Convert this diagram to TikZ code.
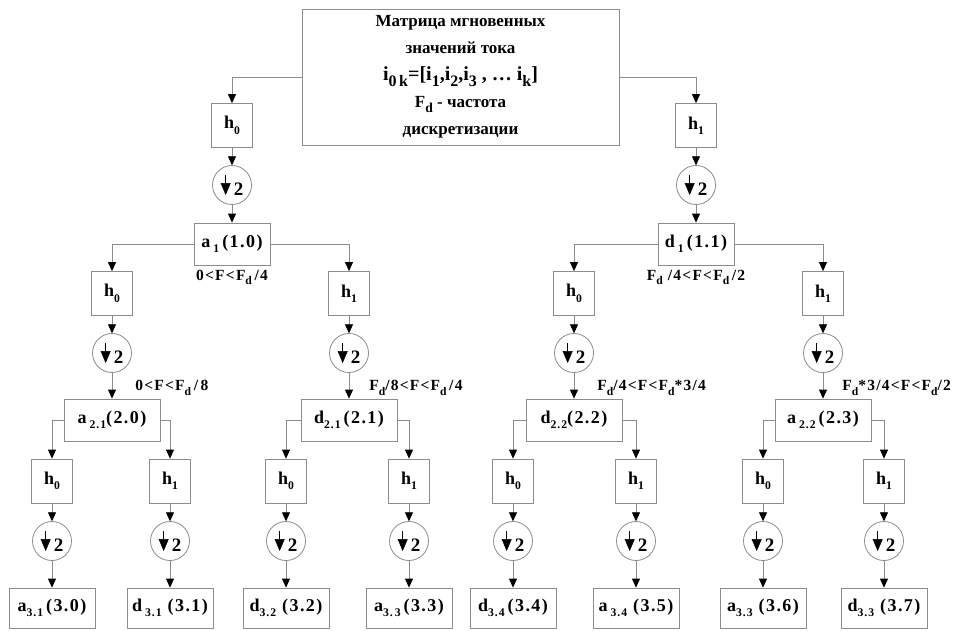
\documentclass[tikz,border=0pt]{standalone}
\usepackage{fontspec}
\setmainfont{Liberation Serif}
\newfontfamily\lsfont{Liberation Serif}[LetterSpace=8]
\usetikzlibrary{arrows.meta,positioning}
% lowered subscript in text font
\newcommand\lo[2][.65]{\raisebox{-.3em}{\fontsize{#1em}{#1em}\selectfont #2}}
% down-sampling arrow inside the circles
\newcommand\dn{\tikz[baseline=0pt]\draw[black,line width=.5pt,-{Triangle[width=10pt,length=12pt]}] (0pt,20pt)--(0pt,0pt);}

\begin{document}
\begin{tikzpicture}[x=1pt,y=-1pt,line width=.8pt,
  >={Triangle[width=8pt,length=9pt,color=black]},font=\bfseries,
  conn/.style={draw=black!45,->},
  topbox/.style={draw=black!45,minimum width=317pt,minimum height=136pt,
    align=center,font=\fontsize{17}{27}\selectfont\bfseries},
  hbox/.style={draw=black!45,minimum width=41pt,minimum height=44pt,
    inner sep=0pt,font=\fontsize{18}{20}\selectfont\bfseries},
  dsmp/.style={draw=black!45,circle,minimum size=39pt,inner sep=0pt,
    font=\fontsize{19}{20}\selectfont\bfseries},
  lvbox/.style={draw=black!45,minimum height=42pt,inner sep=2pt,
    font=\lsfont\fontsize{18}{20}\selectfont\bfseries},
  endbox/.style={lvbox,minimum width=86pt,minimum height=40pt},
  band/.style={inner sep=1pt,font=\lsfont\fontsize{15.5}{17}\selectfont\bfseries}]
  \path[use as bounding box,fill=white] (0,0) rectangle (957,630);

  \node[topbox] (src) at (460.5,77) {Матрица мгновенных\\значений тока\\
    {\fontsize{20}{27}\selectfont i\lo[.8]{0\,k}=[i\lo[.8]{1},i\lo[.8]{2},i\lo[.8]{3}~, … i\lo[.8]{k}]}\\
    F\lo[.8]{d} - частота\\дискретизации};

  % level 1
  \foreach \n/\x/\s/\k/\txt in {L/232/west/0/{a\,\lo{1}\,(1.0)},
    R/696/east/1/{d\,\lo{1}\,(1.1)}}{
    \node[hbox] (h\n) at (\x,125.5) {h\lo{\k}};
    \node[dsmp] (c\n) at (\x,185) {\dn\,2};
    \node[lvbox,minimum width=76pt] (\n) at (\x,244) {\txt};
    \draw[conn] (src.\s) -| (h\n);
    \draw[conn] (h\n) -- (c\n);
    \draw[conn] (c\n) -- (\n);
  }

  % level 2
  \foreach \n/\p/\x/\s/\k/\txt in {LL/L/112/west/0/{a\,\lo{2.1}(2.0)},
    LR/L/349/east/1/{d\lo{2.1}\,(2.1)},
    RL/R/574/west/0/{d\lo{2.2}(2.2)},
    RR/R/823/east/1/{a\,\lo{2.2}\,(2.3)}}{
    \node[hbox] (h\n) at (\x,293.5) {h\lo{\k}};
    \node[dsmp] (c\n) at (\x,353) {\dn\,2};
    \node[lvbox,minimum width=96pt] (\n) at (\x,420) {\txt};
    \draw[conn] (\p.\s) -| (h\n);
    \draw[conn] (h\n) -- (c\n);
    \draw[conn] (c\n) -- (\n);
  }

  % level 3
  \foreach \n/\p/\x/\s/\k/\txt in {LLL/LL/52/west/0/{a\lo{3.1}\,(3.0)},
    LLR/LL/170/east/1/{d\,\lo{3.1}\,\,(3.1)},
    LRL/LR/286/west/0/{d\lo{3.2}\,\,(3.2)},
    LRR/LR/409/east/1/{a\lo{3.\,3}\,(3.3)},
    RLL/RL/513/west/0/{d\lo{3.4}\,(3.4)},
    RLR/RL/636/east/1/{a\,\lo{3.4}\,\,(3.5)},
    RRL/RR/763/west/0/{a\lo{3.3}\,\,(3.6)},
    RRR/RR/884/east/1/{d\lo{3.3}\,\,(3.7)}}{
    \node[hbox] (h\n) at (\x,481) {h\lo{\k}};
    \node[dsmp] (c\n) at (\x,541) {\dn\,2};
    \node[endbox] (\n) at (\x,608) {\txt};
    \draw[conn] (\p.\s) -| (h\n);
    \draw[conn] (h\n) -- (c\n);
    \draw[conn] (c\n) -- (\n);
  }

  % frequency bands
  \node[band,below=3pt of L] (bL) {0<F<F\lo[.75]{d}\,/4};
  \node[band,below=3pt of R] (bR) {F\lo[.75]{d} /4<F<F\lo[.75]{d}\,/2};
  \node[band,anchor=south west] (bLL) at ([xshift=22pt,yshift=2pt]LL.north) {0<F<F\lo[.75]{d}\,/\,8};
  \node[band,anchor=south west] (bLR) at ([xshift=19pt,yshift=2pt]LR.north) {F\lo[.75]{d}/8<F<F\lo[.75]{d}\,/4};
  \node[band,anchor=south west] (bRL) at ([xshift=22pt,yshift=2pt]RL.north) {F\lo[.75]{d}/4<F<F\lo[.75]{d}*3/4};
  \node[band,anchor=south west] (bRR) at ([xshift=18pt,yshift=2pt]RR.north) {F\lo[.75]{d}*3/4<F<F\lo[.75]{d}/2};
\end{tikzpicture}
\end{document}
